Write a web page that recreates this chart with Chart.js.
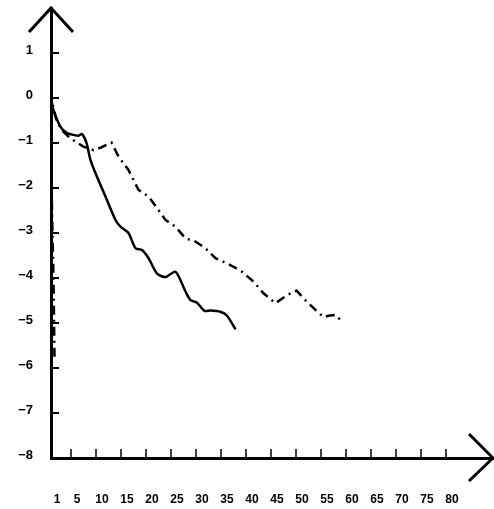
<!DOCTYPE html>
<html>
<head>
<meta charset="utf-8">
<script src="https://cdn.jsdelivr.net/npm/chart.js@4/dist/chart.umd.min.js"></script>
<style>
html,body{margin:0;padding:0;background:#fff;}
canvas{display:block;}
</style>
</head>
<body>
<canvas id="c" width="494" height="509"></canvas>
<script>
// x tick labels and y tick values
const xTickValues = [1,5,10,15,20,25,30,35,40,45,50,55,60,65,70,75,80];
const yTickValues = [-8,-7,-6,-5,-4,-3,-2,-1,0,1];

// solid series
const solidX = [1, 1.5, 2.9, 4.2, 5.5, 6.5, 7.2, 8.1, 8.9, 9.9, 11.9, 13.9, 14.9, 16.5, 17.9, 19.2, 20.5, 22.2, 23.9, 25.9, 27.9, 28.9, 30.2, 31.7, 32.9, 34.9, 36.2, 37.9];
const solidY = [0, -0.27, -0.64, -0.78, -0.82, -0.84, -0.8, -1.0, -1.38, -1.67, -2.19, -2.71, -2.86, -3.0, -3.34, -3.38, -3.56, -3.9, -3.98, -3.86, -4.3, -4.49, -4.55, -4.73, -4.72, -4.75, -4.84, -5.14];

// dash-dot series
const dashX = [1.7, 1.5, 1.2, 1, 2, 3, 4.9, 7.5, 9.5, 11, 13.1, 14.5, 16.5, 18.5, 20.5, 22.5, 23.9, 25.9, 27.9, 29.9, 31.9, 33.9, 35.5, 37.5, 39.2, 41.5, 43.5, 45.9, 48.2, 50.1, 52.2, 53.9, 55.5, 56.5, 57.9, 59.2];
const dashY = [-5.75, -4.0, -2.5, 0, -0.45, -0.7, -0.9, -1.08, -1.16, -1.1, -0.99, -1.3, -1.6, -2.04, -2.19, -2.49, -2.71, -2.86, -3.12, -3.19, -3.34, -3.56, -3.64, -3.75, -3.86, -4.08, -4.34, -4.56, -4.38, -4.28, -4.53, -4.71, -4.87, -4.84, -4.82, -4.97];

const toPts = (xs, ys) => xs.map((x, i) => ({x: x, y: ys[i]}));

const axisDecor = {
  id: 'axisDecor',
  afterDatasetsDraw(chart) {
    const ctx = chart.ctx;
    const xs = chart.scales.x, ys = chart.scales.y;
    const a = chart.chartArea;
    ctx.save();
    ctx.strokeStyle = '#000';
    ctx.lineCap = 'butt';
    // y tick marks (inside)
    ctx.lineWidth = 2;
    yTickValues.forEach(v => {
      if (v === ys.min) return;
      const py = ys.getPixelForValue(v);
      ctx.beginPath(); ctx.moveTo(a.left, py); ctx.lineTo(a.left + 8, py); ctx.stroke();
    });
    // x tick marks (inside)
    ctx.lineWidth = 1.5;
    xTickValues.forEach(v => {
      if (v === xs.min) return;
      const px = xs.getPixelForValue(v);
      ctx.beginPath(); ctx.moveTo(px, a.bottom - 1); ctx.lineTo(px, a.bottom - 9); ctx.stroke();
    });
    // arrows
    ctx.lineWidth = 3;
    ctx.lineJoin = 'miter';
    const tx = xs.getPixelForValue(xs.min), ty = ys.getPixelForValue(ys.max);
    ctx.beginPath(); ctx.moveTo(tx - 22, ty + 24); ctx.lineTo(tx, ty); ctx.lineTo(tx + 22, ty + 24); ctx.stroke();
    const rx = xs.getPixelForValue(xs.max), ry = ys.getPixelForValue(ys.min);
    ctx.beginPath(); ctx.moveTo(rx - 24, ry - 24); ctx.lineTo(rx, ry); ctx.lineTo(rx - 24, ry + 23); ctx.stroke();
    ctx.restore();
  }
};

new Chart(document.getElementById('c'), {
  type: 'scatter',
  data: {
    datasets: [
      {
        label: 'solid',
        data: toPts(solidX, solidY),
        showLine: true,
        borderColor: '#000',
        borderWidth: 2.5,
        pointRadius: 0,
        tension: 0.25,
        fill: false
      },
      {
        label: 'dash-dot',
        data: toPts(dashX, dashY),
        showLine: true,
        borderColor: '#000',
        borderWidth: 2.5,
        borderDash: [9, 5, 2, 5],
        pointRadius: 0,
        tension: 0,
        fill: false
      }
    ]
  },
  options: {
    responsive: false,
    animation: false,
    layout: {padding: {top: 8, right: 1, left: 0, bottom: 0}},
    plugins: {legend: {display: false}, tooltip: {enabled: false}},
    scales: {
      x: {
        type: 'linear',
        min: 1,
        max: 89.4,
        grid: {display: false, drawTicks: false},
        border: {display: true, width: 3, color: '#000'},
        afterBuildTicks: s => { s.ticks = xTickValues.map(v => ({value: v})); },
        afterFit: s => { s.height = 51; s.paddingLeft = 0; s.paddingRight = 0; },
        ticks: {
          autoSkip: false,
          maxRotation: 0,
          padding: 34,
          labelOffset: 6,
          color: '#000',
          font: {family: 'Liberation Sans', size: 12, weight: 'bold'},
          callback: v => String(v)
        }
      },
      y: {
        type: 'linear',
        min: -8,
        max: 2,
        grid: {display: false, drawTicks: false},
        border: {display: true, width: 3, color: '#000'},
        afterBuildTicks: s => { s.ticks = yTickValues.map(v => ({value: v})); },
        afterFit: s => { s.width = 51; s.paddingTop = 0; s.paddingBottom = 0; },
        ticks: {
          autoSkip: false,
          padding: 18,
          labelOffset: -3,
          color: '#000',
          font: {family: 'Liberation Sans', size: 13, weight: 'bold'},
          callback: v => String(v).replace('-', '\u2212')
        }
      }
    }
  },
  plugins: [axisDecor]
});
</script>
</body>
</html>
